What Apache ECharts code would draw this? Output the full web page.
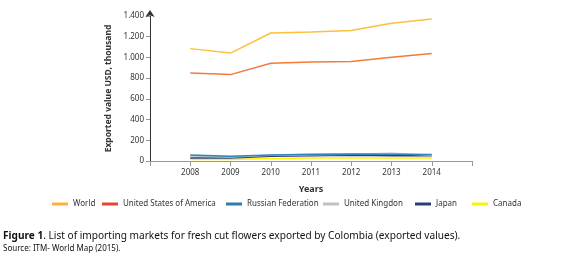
<!DOCTYPE html>
<html>
<head>
<meta charset="utf-8">
<script src="https://cdn.jsdelivr.net/npm/echarts@6/dist/echarts.min.js"></script>
<style>
  html, body { margin: 0; padding: 0; background: #fff; }
  #chart { width: 580px; height: 260px; }
</style>
</head>
<body>
<div id="chart"></div>
<script>
// blank slots at both ends so the years sit one tick in from the axis ends
const years = ["", "2008", "2009", "2010", "2011", "2012", "2013", "2014", ""];
const world = [null, 1085, 1042, 1236, 1246, 1260, 1330, 1370, null];
const usa = [null, 850, 834, 944, 955, 960, 1002, 1037, null];
const russia = [null, 58, 45, 58, 65, 68, 66, 62, null];
const uk = [null, 48, 38, 55, 60, 66, 75, 55, null];
const japan = [null, 30, 30, 45, 50, 56, 50, 50, null];
const canada = [null, 14, 15, 25, 30, 30, 30, 30, null];

const names = ["World", "United States of America", "Russian Federation", "United Kingdon", "Japan", "Canada"];
const lineColors = ["#fdc03a", "#f47a3c", "#2f86b8", "#b9c4cc", "#2d3f6e", "#fff200"];
const legendColors = ["#fbb040", "#e8452c", "#2a7fad", "#c0c0c0", "#2c3e6b", "#fff200"];
const legendLeft = [52, 102, 226, 323, 415, 472];
const allData = [world, usa, russia, uk, japan, canada];

const chart = echarts.init(document.getElementById("chart"));
const font = "Noto Sans";

chart.setOption({
  animation: false,
  grid: { left: 150, right: 108, top: 16, bottom: 99 },
  legend: names.map((n, i) => ({
    data: [n],
    left: legendLeft[i],
    top: 200,
    padding: 0,
    itemWidth: 16,
    itemHeight: 3,
    icon: "rect",
    itemGap: 0,
    itemStyle: { color: legendColors[i] },
    textStyle: { fontFamily: font, fontSize: 8, color: "#333" }
  })),
  xAxis: {
    type: "category",
    data: years,
    boundaryGap: false,
    name: "Years",
    nameLocation: "middle",
    nameGap: 24,
    nameTextStyle: { fontFamily: font, fontSize: 9, fontWeight: "bold", color: "#333" },
    axisLine: { lineStyle: { color: "#999" } },
    axisTick: { alignWithLabel: true, lineStyle: { color: "#999" } },
    axisLabel: { fontFamily: font, fontSize: 8, color: "#333", interval: 0, margin: 8 }
  },
  yAxis: {
    type: "value",
    min: 0,
    max: 1400,
    interval: 200,
    name: "Exported value USD, thousand",
    nameLocation: "middle",
    nameGap: 34,
    nameTextStyle: { fontFamily: font, fontSize: 8.5, fontWeight: "bold", color: "#333" },
    splitLine: { show: false },
    axisLine: {
      show: true,
      symbol: ["none", "arrow"],
      symbolSize: [7, 7],
      symbolOffset: [0, 6],
      lineStyle: { color: "#333" }
    },
    axisTick: { show: true, length: 4, lineStyle: { color: "#999" } },
    axisLabel: {
      fontFamily: font, fontSize: 8, color: "#333", margin: 6,
      formatter: v => String(v).replace(/\B(?=(\d{3})+(?!\d))/g, ".")
    }
  },
  series: names.map((n, i) => ({
    name: n,
    type: "line",
    data: allData[i],
    showSymbol: false,
    symbol: "none",
    lineStyle: { width: 1.5, color: lineColors[i] },
    itemStyle: { color: legendColors[i] },
    z: 10 - i
  })),
  graphic: [
    {
      type: "text",
      left: 3,
      top: 231,
      style: {
        text: "{b|Figure 1}. List of importing markets for fresh cut flowers exported by Colombia (exported values).",
        rich: { b: { fontWeight: "bold", fontFamily: font, fontSize: 10.1, fill: "#111" } },
        fontFamily: font,
        fontSize: 10.1,
        fill: "#111"
      }
    },
    {
      type: "text",
      left: 3,
      top: 245,
      style: {
        text: "Source: ITM- World Map (2015).",
        fontFamily: font,
        fontSize: 8,
        fill: "#111"
      }
    }
  ]
});
</script>
</body>
</html>
